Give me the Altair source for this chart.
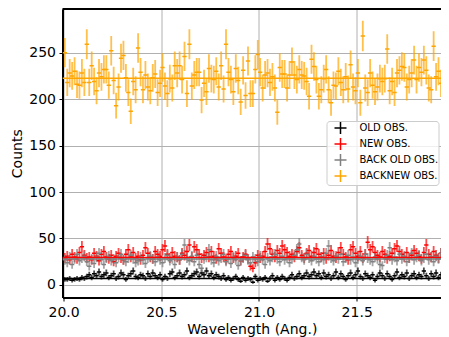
import math
import altair as alt
import pandas as pd

SERIES = ["OLD OBS.", "NEW OBS.", "BACK OLD OBS.", "BACKNEW OBS."]
COLORS = ["black", "red", "gray", "orange"]
WL_START = 20.00625
WL_BIN = 0.0125
X_TICKS = [20.0, 20.5, 21.0, 21.5]
Y_TICKS = [0, 50, 100, 150, 200, 250]

OLD_OBS = [6, 6, 7, 5, 6, 7, 6, 8, 7, 9, 11, 8, 12, 10, 14, 9, 11, 13, 8, 10,
           12, 7, 9, 13, 11, 6, 10, 12, 15, 9, 8, 11, 10, 7, 12, 9, 13, 10, 8, 11,
           6, 9, 7, 12, 14, 8, 10, 13, 9, 11, 15, 8, 10,
           12, 14, 9, 13, 11, 15, 10, 12, 8, 11, 9, 7, 10, 6, 8, 5, 7, 9, 6, 4,
           8, 5, 7, 6, 3, 9, 5, 7, 6, 8, 4, 7, 10, 5, 8, 6, 9, 7, 5, 8,
           11, 7, 9, 12, 8, 10, 13, 9, 11, 14, 10, 12,
           8, 13, 9, 11, 7, 10, 14, 8, 12, 9, 6, 10, 13, 8, 11, 15, 9, 7, 12, 10,
           8, 11, 5, 9, 13, 10, 7, 12, 9, 6, 10, 14, 8, 11, 9, 13, 7, 10, 12, 8,
           11, 9, 15, 10, 7, 12, 9, 13, 8, 11, 10, 6, 12]
NEW_OBS = [29, 31, 27, 33, 30, 28, 35, 41, 32, 29, 30, 27, 34, 31, 26, 33, 36, 30, 28, 32,
           25, 31, 34, 29, 27, 33, 38, 30, 35, 29, 31, 27, 32, 40, 34, 30, 28, 36, 33, 31,
           38, 42, 33, 29, 35, 31, 30, 27, 34, 32, 36, 43, 30,
           41, 38, 33, 29, 32, 35, 30, 36, 31, 28, 39, 34, 30, 27, 33, 36, 29, 31, 34, 26,
           30, 33, 28, 20, 18, 24, 32, 29, 31, 36, 44, 39, 33, 30, 37, 34, 42, 38, 35, 31,
           33, 30, 36, 40, 32, 29, 34, 37, 31, 35, 39, 33,
           30, 34, 28, 32, 37, 31, 29, 35, 40, 33, 30, 27, 38, 41, 34, 31, 36, 29, 33, 46,
           38, 41, 35, 32, 30, 36, 33, 28, 31, 34, 39, 42, 36, 33, 30, 35, 29, 32, 37, 34,
           31, 28, 35, 43, 33, 30, 36, 32, 29, 34, 31, 35, 30]
BACK_OLD_OBS = [27, 24, 30, 22, 28, 33, 26, 29, 31, 25, 20, 28, 23, 30, 34, 27, 22, 29, 31, 26,
                28, 24, 30, 33, 27, 25, 29, 32, 28, 24, 26, 30, 27, 23, 29, 31, 28, 25, 30, 27,
                24, 29, 32, 26, 28, 22, 30, 27, 33, 43, 29, 26, 31,
                25, 32, 22, 18, 28, 30, 38, 27, 24, 31, 26, 29, 33, 25, 28, 23, 30, 27, 21, 26,
                29, 32, 27, 24, 30, 28, 25, 31, 27, 22, 29, 26, 30, 33, 28, 25, 31, 27, 29, 24,
                28, 32, 38, 44, 30, 27, 33, 29, 26, 31, 28, 25,
                30, 27, 34, 42, 29, 26, 31, 28, 33, 25, 29, 32, 27, 30, 24, 28, 31, 26, 33, 29,
                27, 25, 30, 28, 22, 21, 29, 32, 40, 27, 30, 26, 33, 28, 31, 25, 29, 34, 27, 30,
                32, 26, 29, 33, 27, 30, 25, 31, 28, 34, 29, 26, 30]
BACKNEW_OBS = [250, 218, 228, 225, 230, 216, 215, 228, 218, 259, 218, 236, 219, 209, 228, 224, 232, 232, 215, 252,
               220, 193, 213, 244, 247, 223, 207, 187, 219, 210, 255, 229, 210, 226, 213, 209, 223, 227, 207, 217,
               234, 214, 206, 222, 212, 236, 228, 236, 221, 246, 206, 259, 214,
               226, 229, 229, 199, 217, 208, 233, 222, 221, 230, 213, 236, 211, 259, 229, 221, 208, 233, 220, 197,
               231, 204, 241, 206, 206, 232, 248, 229, 212, 226, 228, 218, 224, 212, 186, 234, 227, 227, 212, 226,
               240, 226, 221, 232, 226, 225, 219, 203, 243, 235, 221, 203,
               210, 222, 232, 210, 196, 215, 214, 230, 218, 210, 224, 211, 237, 213, 209, 228, 196, 268, 212, 207,
               228, 215, 208, 213, 222, 219, 222, 254, 209, 219, 207, 228, 231, 235, 234, 213, 221, 228, 242, 221,
               234, 229, 242, 231, 212, 210, 257, 224, 230, 217, 194, 239, 206]
MODEL_LEVELS = [7, 29.5, 28, 222.5]

rows = []
for name, vals in zip(SERIES, [OLD_OBS, NEW_OBS, BACK_OLD_OBS, BACKNEW_OBS]):
    for i, v in enumerate(vals):
        x = WL_START + i * WL_BIN
        e = math.sqrt(v)
        rows.append({"series": name, "x": x, "y": v, "lo": v - e, "hi": v + e,
                     "xl": x - 0.011, "xh": x + 0.011})
df = pd.DataFrame(rows)
mdf = pd.DataFrame({"series": SERIES, "level": MODEL_LEVELS})

W, H = 378.5, 288.5
FONT = "DejaVu Sans"
xs = alt.Scale(domain=[19.9944, 19.9944 + W / 195.4], nice=False, zero=False)
ys = alt.Scale(domain=[-13.5, 297.0], nice=False, zero=False)

legend = alt.Legend(orient="none", legendX=264, legendY=112, title=None,
                    symbolType="M-1,0H1M0,-1V1", symbolSize=144, symbolStrokeWidth=1.5,
                    symbolOpacity=1, symbolFillColor="transparent", symbolOffset=7,
                    labelOffset=12, rowPadding=-2.1, padding=0, labelFontSize=10,
                    labelFont=FONT, labelColor="black", fillColor="rgba(255,255,255,0.8)",
                    strokeColor="#cccccc", cornerRadius=3)
color = alt.Color("series:N", scale=alt.Scale(domain=SERIES, range=COLORS), legend=legend)

x_axis = alt.Axis(values=X_TICKS, format=".1f", title="Wavelength (Ang.)", grid=True,
                  labelFontSize=14, titleFontSize=14, labelFont=FONT, titleFont=FONT,
                  titleFontWeight="normal", labelColor="black", titleColor="black",
                  domainColor="black", domainWidth=2, tickColor="black", tickSize=3.5,
                  tickWidth=1, labelPadding=4.5, titleY=36, titleBaseline="alphabetic",
                  gridColor="#b0b0b0", gridWidth=1, labelFlush=False, labelOverlap=False)
y_axis = alt.Axis(values=Y_TICKS, format="d", title="Counts", grid=True,
                  labelFontSize=14, titleFontSize=14, labelFont=FONT, titleFont=FONT,
                  titleFontWeight="normal", labelColor="black", titleColor="black",
                  domainColor="black", domainWidth=2, tickColor="black", tickSize=3.5,
                  tickWidth=1, labelPadding=3.5, titleX=-41, titleY=H / 2,
                  titleBaseline="alphabetic", titleAlign="center",
                  gridColor="#b0b0b0", gridWidth=1, labelFlush=False, labelOverlap=False)

vbars = alt.Chart(df).mark_rule(strokeWidth=1.8, opacity=0.7, clip=True).encode(
    x=alt.X("x:Q", scale=xs, axis=x_axis),
    y=alt.Y("lo:Q", scale=ys, axis=y_axis),
    y2="hi:Q",
    color=color,
)
hticks = alt.Chart(df).mark_rule(strokeWidth=1.5, clip=True).encode(
    x=alt.X("xl:Q", scale=xs), x2="xh:Q", y=alt.Y("y:Q", scale=ys), color=color
)
lines = alt.Chart(mdf).mark_rule(strokeWidth=1.5, clip=True).encode(
    y=alt.Y("level:Q", scale=ys), color=color
)
top = alt.Chart(pd.DataFrame({"a": [0]})).mark_rule(color="black", strokeWidth=2).encode(
    x=alt.value(0), x2=alt.value(W), y=alt.value(0)
)

chart = alt.layer(vbars, hticks, lines, top).properties(
    width=W, height=H,
    autosize=alt.AutoSizeParams(type="none"),
    padding={"left": 54.5, "top": 1, "right": 0, "bottom": 39.5},
    background="white",
).configure_view(stroke=None)

chart.save("out.html", embed_options={"renderer": "svg", "actions": False})
